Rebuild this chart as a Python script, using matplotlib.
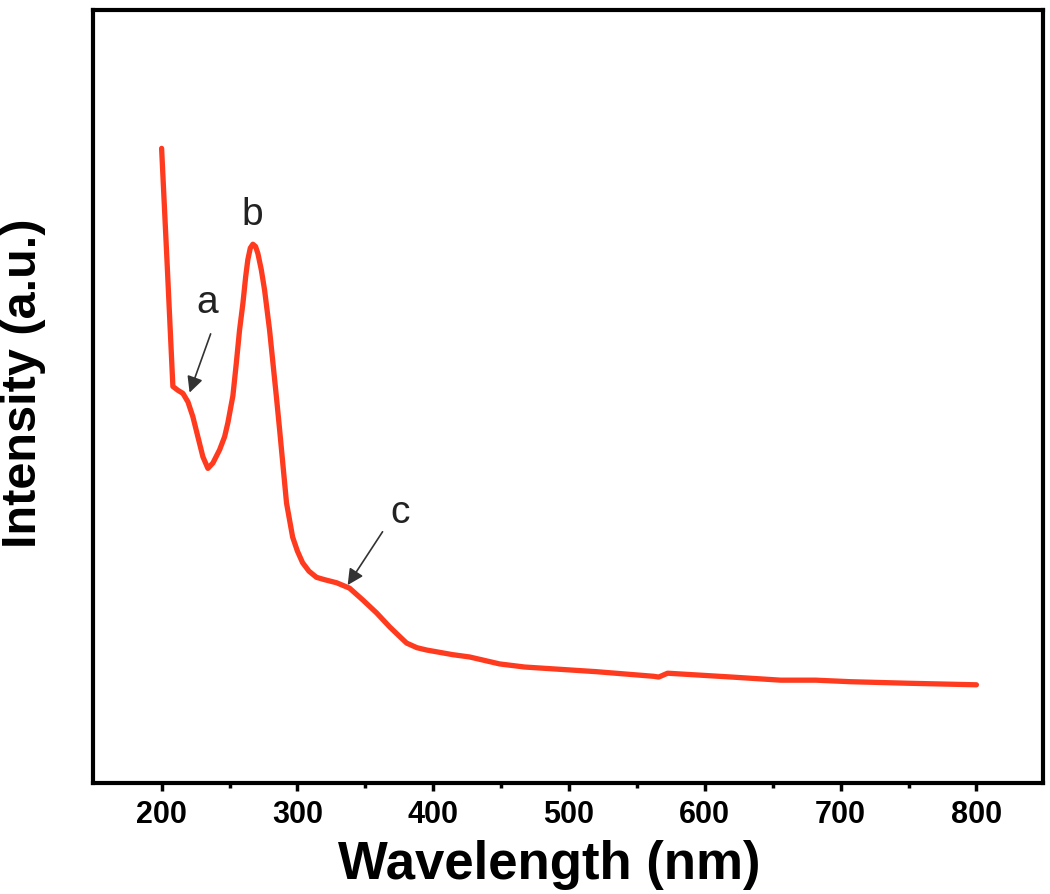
import numpy as np
import matplotlib
matplotlib.use("Agg")
import matplotlib.pyplot as plt

# UV-vis spectrum, values
wavelength = [200, 204.2, 208.3, 212.0, 215.7, 219.4, 223.0, 226.7, 230.4, 234.1,
              237.8, 242.7, 246.4, 248.8, 252.5, 255.0, 257.4, 259.9, 261.9, 263.5,
              265.3, 267.2, 269.2, 270.9, 273.4, 275.8, 279.5, 282.0, 284.5, 286.9,
              290.6, 292.0, 296.5, 300.0, 303.8, 308.5, 314.1, 320.0, 328.9, 338.4,
              348.0, 358.3, 367.9, 375.0, 380.4, 388.0, 395.1, 414.3, 426.8, 448.9,
              467.3, 520.0, 562.3, 566.0, 572.6, 620.0, 655.8, 681.6, 707.4, 750.0,
              800.0]
intensity = [0.821, 0.667, 0.513, 0.508, 0.504, 0.493, 0.474, 0.448, 0.422, 0.407,
             0.414, 0.431, 0.448, 0.466, 0.501, 0.543, 0.586, 0.621, 0.655, 0.677,
             0.692, 0.697, 0.694, 0.685, 0.664, 0.638, 0.586, 0.543, 0.500, 0.457,
             0.388, 0.362, 0.318, 0.300, 0.285, 0.274, 0.266, 0.263, 0.259, 0.252,
             0.237, 0.220, 0.202, 0.190, 0.181, 0.175, 0.172, 0.166, 0.163, 0.154,
             0.150, 0.144, 0.138, 0.137, 0.142, 0.137, 0.133, 0.133, 0.131, 0.129,
             0.127]

# peak labels: letter, text centre, arrow tail, arrow head
labels = ["a", "b", "c"]
label_pos = [(233.9, 0.621), (267, 0.735), (375.3, 0.349)]
arrow_tail = [(236.1, 0.581), None, (362.7, 0.325)]
arrow_head = [(220.6, 0.505), None, (337.0, 0.256)]

xticks = [200, 300, 400, 500, 600, 700, 800]

plt.rcParams['font.family'] = ['Liberation Sans', 'DejaVu Sans']

fig = plt.figure(figsize=(10.5, 8.94), dpi=100)
ax = fig.add_axes([0.0886, 0.1242, 0.9047, 0.8646])

ax.plot(wavelength, intensity, color='#ff3b1f', lw=3.8,
        solid_capstyle='round', solid_joinstyle='round')

for lab, pos, tail, head in zip(labels, label_pos, arrow_tail, arrow_head):
    ax.text(pos[0], pos[1], lab, fontsize=28, ha='center', va='center', color='#222222')
    if tail is not None:
        ax.annotate('', xy=head, xytext=tail,
                    arrowprops=dict(arrowstyle='-|>', color='#333333', lw=1.2,
                                    mutation_scale=24, shrinkA=0, shrinkB=0))

ax.set_xlim(149.5, 849)
ax.set_ylim(0, 1)
ax.set_xticks(xticks)
ax.set_xticks(np.arange(250, 850, 100), minor=True)
ax.set_yticks([])
ax.tick_params(axis='x', which='major', direction='out', length=6, width=2.5,
               labelsize=22, pad=6)
ax.tick_params(axis='x', which='minor', direction='out', length=3.5, width=2.5)
for lbl in ax.get_xticklabels():
    lbl.set_fontweight('bold')
for sp in ax.spines.values():
    sp.set_linewidth(3)
    sp.set_color('black')

ax.set_xlabel('Wavelength (nm)', fontsize=38, fontweight='bold')
ax.set_ylabel('Intensity (a.u.)', fontsize=35, fontweight='bold')
ax.xaxis.set_label_coords(0.48, -0.074)
ax.yaxis.set_label_coords(-0.049, 0.517)

fig.savefig('out.png', dpi=100)
